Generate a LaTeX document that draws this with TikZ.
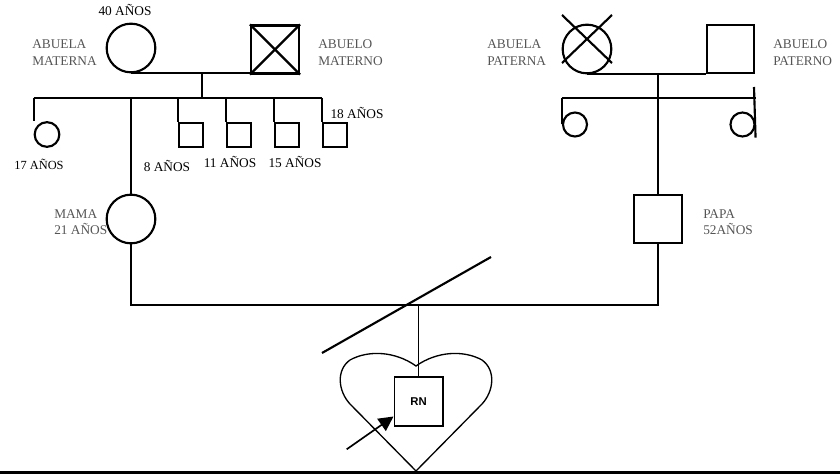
\documentclass[tikz,border=0pt]{standalone}
\usepackage{fontspec}
\setmainfont{Liberation Serif}
\newfontfamily\rnfont{Liberation Sans}
\usepackage{tikz}
\usetikzlibrary{arrows.meta, positioning, calc}
\definecolor{labelgray}{RGB}{85, 85, 85}

\begin{document}
\begin{tikzpicture}[
    x=0.75pt, y=-0.75pt,
    femnode/.style={draw, circle, line width=1.6pt, inner sep=0pt,
                    minimum size=36.5pt},
    malenode/.style={draw, rectangle, line width=1.6pt, inner sep=0pt,
                     minimum size=36pt},
    femsmall/.style={femnode, minimum size=18.5pt},
    malesmall/.style={malenode, minimum size=18pt},
    lin/.style={line width=1.6pt},
    thinlin/.style={line width=1pt},
    arr/.style={-{Triangle[length=11pt, width=11pt]}, line width=1.25pt},
    tag/.style={font=\fontsize{10pt}{12.5pt}\selectfont, text=labelgray,
                align=left, inner sep=0pt, anchor=west},
    age/.style={font=\fontsize{10pt}{12pt}\selectfont, inner sep=0pt,
                anchor=base},
]
    \useasboundingbox (0,0) rectangle (840,474);

    % abuelos maternos
    \node[femnode] (abuelaM) at (131,48) {};
    \node[malenode] (abueloM) at (275,49.5) {};
    \draw[lin] (abueloM.north west) -- (abueloM.south east);
    \draw[lin] (abueloM.north east) -- (abueloM.south west);
    \coordinate (uM) at (202,73);
    \coordinate (sM) at (202,98);
    \draw[lin] (abuelaM.south) -- (abuelaM.south -| abueloM.west);
    \draw[lin] (uM) -- (sM);

    % hijos maternos
    \node[femsmall] (hija17) at (47,134.5) {};
    \foreach \n/\x in {8/191, 11/239, 15/287, 18/335}
        \node[malesmall] (hijo\n) at (\x,135) {};
    \draw[lin] (hija17.west |- sM) -- (hijo18.west |- sM);
    \draw[lin] (hija17.west |- sM) -- (hija17.west |- hija17.north);
    \foreach \n in {8, 11, 15, 18}
        \draw[lin] (hijo\n.west |- sM) -- (hijo\n.north west);

    % mama
    \node[femnode] (mama) at (131,219) {};
    \draw[lin] (mama.north |- sM) -- (mama.north);

    % abuelos paternos
    \node[femnode] (abuelaP) at (587,49) {};
    \draw[lin] ($(abuelaP.center)+(-25,-34)$) -- ($(abuelaP.center)+(25,14)$);
    \draw[lin] ($(abuelaP.center)+(25,-34)$) -- ($(abuelaP.center)+(-25,14)$);
    \node[malenode, minimum size=35.5pt] (abueloP) at (730.5,49) {};
    \coordinate (uP) at (658,73);
    \coordinate (sP) at (658,98);
    \draw[lin] (abuelaP.south) -- (abuelaP.south -| abueloP.west);

    % hijos paternos
    \node[femsmall, minimum size=18pt] (tiaP1) at (575,124.5) {};
    \node[femsmall, minimum size=18pt] (tiaP2) at (742.5,124.5) {};
    \coordinate (tP2) at (754,87);
    \draw[lin] (tiaP1.west |- sP) -- (tiaP2.east |- sP);
    \draw[lin] (tiaP1.west |- sP) -- (tiaP1.west);
    \draw[lin] (tP2) -- (tiaP2.east |- tiaP2.south);

    % papa
    \node[malenode] (papa) at (658,219) {};
    \draw[lin] (uP) -- (papa.north);

    % union mama-papa
    \coordinate (bar) at (418,305);
    \draw[lin] (mama.south) -- (mama.south |- bar) -- (papa.south |- bar)
        -- (papa.south);
    \draw[lin] (491,257) -- (322,353);

    % recien nacido
    \node[draw, thinlin, minimum size=36.5pt, inner sep=0pt,
          font=\rnfont\bfseries\fontsize{8.5pt}{10pt}\selectfont] (rn) at (418.5,401.5) {RN};
    \draw[thinlin] (rn.north |- bar) -- (rn.north);
    \draw[thinlin] (416,471) -- (350,404)
        .. controls (338,391) and (336,370) .. (350,360)
        .. controls (368,350) and (395,351) .. (416,366)
        .. controls (437,351) and (464,350) .. (482,360)
        .. controls (496,370) and (494,391) .. (482,404) -- cycle;
    \coordinate (arrtail) at (346.7,449.3);
    \draw[arr] (arrtail) -- ($(rn.south west)+(0,-10)$);

    \fill (0,470.8) rectangle (840,474);

    % textos
    \node[tag] (tAbuelaM) at (32,52.5) {ABUELA\\MATERNA};
    \node[tag] (tAbueloM) at (318,52.5) {ABUELO\\MATERNO};
    \node[tag] (tAbuelaP) at (487,52.5) {ABUELA\\PATERNA};
    \node[tag] (tAbueloP) at (773,52.5) {ABUELO\\PATERNO};
    \node[tag] (tMama) at (54,222) {MAMA\\21 AÑOS};
    \node[tag] (tPapa) at (703,222) {PAPA\\52AÑOS};
    \node[age] (a40) at (125,16) {40 AÑOS};
    \node[age, font=\fontsize{9.3pt}{10pt}\selectfont] (a17) at (39,170) {17 AÑOS};
    \node[age] (a8) at (167,172) {8 AÑOS};
    \node[age] (a11) at (230,168) {11 AÑOS};
    \node[age] (a15) at (295,168) {15 AÑOS};
    \node[age] (a18) at (357,119) {18 AÑOS};
\end{tikzpicture}
\end{document}
